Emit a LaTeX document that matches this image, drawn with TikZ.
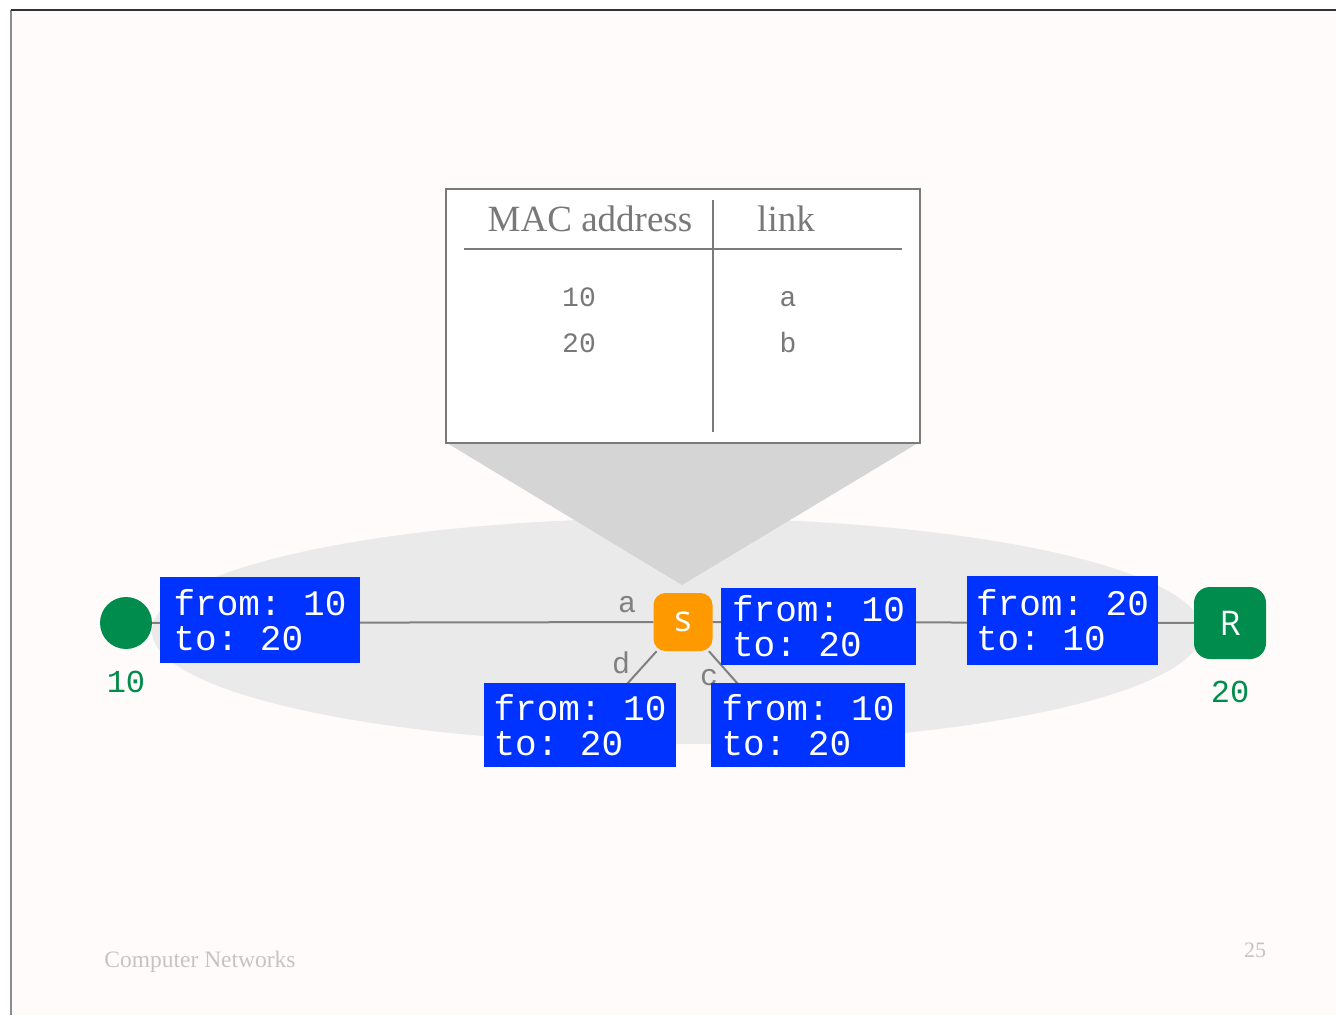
\documentclass[tikz,border=0pt]{standalone}
\usepackage{fontspec}
\setmainfont{Liberation Serif}
\setmonofont{Liberation Mono}
\newfontfamily\nodesans{Open Sans}
\definecolor{bgc}{RGB}{255,251,250}
\definecolor{ellc}{RGB}{234,234,234}
\definecolor{tric}{RGB}{213,213,213}
\definecolor{tabc}{RGB}{122,122,122}
\definecolor{tabtext}{RGB}{120,120,120}
\definecolor{linkc}{RGB}{128,128,128}
\definecolor{pktblue}{RGB}{0,51,255}
\definecolor{hostgreen}{RGB}{0,140,76}
\definecolor{switchorange}{RGB}{255,153,0}
\definecolor{footc}{RGB}{196,196,196}
\definecolor{framedark}{RGB}{50,50,50}
\definecolor{framegray}{RGB}{140,140,140}
\begin{document}
\begin{tikzpicture}[x=1pt,y=-1pt,
  link/.style={draw=linkc, line width=2pt},
  pkt/.style={fill=pktblue, text=white, align=left, inner sep=0pt,
    font=\ttfamily\fontsize{36}{35}\selectfont},
  lbl/.style={text=linkc, font=\ttfamily\fontsize{30}{30}\selectfont, inner sep=0pt},
  tabentry/.style={text=tabtext, anchor=base, font=\ttfamily\fontsize{28}{28}\selectfont, inner sep=0pt},
  tabhead/.style={text=tabtext, anchor=base, font=\fontsize{37}{37}\selectfont, inner sep=0pt},
  addr/.style={text=hostgreen, font=\ttfamily\fontsize{32}{32}\selectfont, inner sep=0pt},
  foot/.style={text=footc, anchor=base, inner sep=0pt}
]
\useasboundingbox (0,0) rectangle (1336,1015);
\fill[white] (0,0) rectangle (1336,1015);
\fill[bgc] (11,10) rectangle (1336,1015);
\draw[framegray, line width=2pt] (11,1015) -- (11,10);
\draw[framedark, line width=1.5pt] (11,10) -- (1336,10);

% ellipse (segment)
\fill[ellc] (677,631) ellipse [x radius=525pt, y radius=113pt];
% callout
\fill[tric] (447,443) -- (918,443) -- (682,585) -- cycle;

% table
\node[draw=tabc, line width=2pt, fill=white, minimum width=474pt, minimum height=254pt, inner sep=0pt] (tbl) at (683,316) {};
\draw[tabc, line width=2pt] (464,249) -- (902,249);
\draw[tabc, line width=2pt] (713,200) -- (713,432);
\node[tabhead] (hmac) at (590,231) {MAC address};
\node[tabhead] (hlink) at (786,231) {link};
\node[tabentry] (e10) at (579,306) {10};
\node[tabentry] (e20) at (579,352) {20};
\node[tabentry] (ea) at (788,306) {a};
\node[tabentry] (eb) at (788,352) {b};

% nodes
\node[circle, fill=hostgreen, minimum size=52pt, inner sep=0pt] (h10) at (126,623) {};
\node[rectangle, rounded corners=12pt, fill=switchorange, minimum width=59pt, minimum height=58pt, inner sep=0pt,
  text=white, font=\nodesans\fontsize{36}{36}\selectfont] (sw) at (683,622) {s};
\node[rectangle, rounded corners=16pt, fill=hostgreen, minimum width=72pt, minimum height=72pt, inner sep=0pt,
  text=white, font=\nodesans\fontsize{34}{34}\selectfont] (R) at (1230,623) {R};
\coordinate (dend) at (627,684);
\coordinate (cend) at (738,684);

% links
\draw[link] (h10) -- (sw);
\draw[link] (sw) -- (R);
\draw[link] (sw) -- (dend);
\draw[link] (sw) -- (cend);

% link labels
\node[lbl] (la) at (627,605) {a};
\node[lbl] (ld) at (621,663) {d};
\node[lbl] (lc) at (709,678) {c};

% addresses
\node[addr] (a10) at (126,682) {10};
\node[addr] (a20) at (1230,692) {20};

% packets
\node[pkt, minimum width=200pt, minimum height=86pt] (p1) at (260,620) {from: 10\\to: 20};
\node[pkt, minimum width=195pt, minimum height=77pt] (p2) at (818.5,626.5) {from: 10\\to: 20};
\node[pkt, minimum width=192pt, minimum height=84pt] (p3) at (580,725) {from: 10\\to: 20};
\node[pkt, minimum width=194pt, minimum height=84pt] (p4) at (808,725) {from: 10\\to: 20};
\node[pkt, minimum width=191pt, minimum height=89pt] (p5) at (1062.5,620.5) {from: 20\\to: 10};

% footer
\node[foot, font=\fontsize{23.5}{24}\selectfont] (ft) at (200,967) {Computer Networks};
\node[foot, font=\fontsize{22}{22}\selectfont] (pg) at (1255,957) {25};
\end{tikzpicture}
\end{document}
